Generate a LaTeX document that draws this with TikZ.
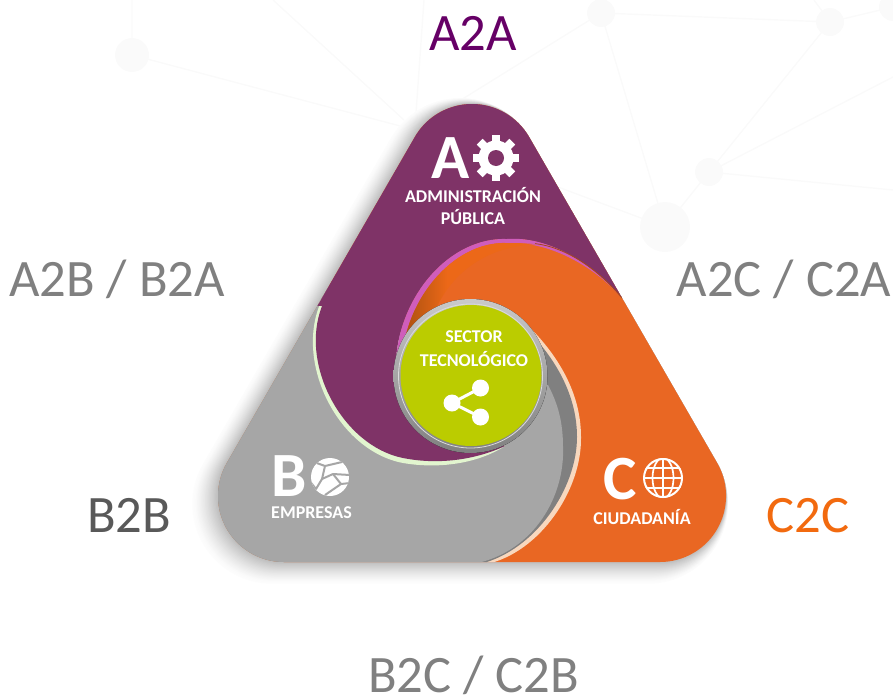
\documentclass[tikz,border=0pt]{standalone}
\usepackage{fontspec}
\setmainfont{Carlito}
\definecolor{cPurple}{HTML}{7F3367}
\definecolor{cOrange}{HTML}{E96723}
\definecolor{cGray}{HTML}{A6A6A6}
\definecolor{cDark}{HTML}{808080}
\definecolor{cPink}{HTML}{CF5DBB}
\definecolor{cMint}{HTML}{E2F5CF}
\definecolor{cPeach}{HTML}{F8D8BE}
\definecolor{cLime}{HTML}{BBCC00}
\definecolor{cNet}{HTML}{FAFAFA}
\definecolor{cLabA}{HTML}{660066}
\definecolor{cLabB}{HTML}{595959}
\definecolor{cLabC}{HTML}{F26A0F}
\definecolor{cBrown}{HTML}{A9500F}
\definecolor{cBright}{HTML}{EC6818}
\pgfdeclarehorizontalshading{cres}{100bp}{color(0bp)=(cBrown);color(25bp)=(cBrown);color(42bp)=(cBright);color(75bp)=(cBright);color(100bp)=(cBright)}
\def\tripath{(414.8,137) arc[start angle=150,end angle=30,radius=66pt] -- (717.2,463) arc[start angle=30,end angle=-90,radius=66pt] -- (284,562) arc[start angle=-90,end angle=-210,radius=66pt] -- cycle}
\tikzset{
  biglabel/.style={font=\fontsize{52.6}{52.6}\selectfont, anchor=base, inner sep=0pt},
  smalltext/.style={font=\bfseries\fontsize{18}{20}\selectfont, text=white, inner sep=0pt, anchor=center, align=center},
  initial/.style={font=\bfseries\fontsize{63}{63}\selectfont, text=white, inner sep=0pt, anchor=base},
  netline/.style={draw=cNet, line width=1.4pt},
  netnode/.style={fill=cNet}
}
\begin{document}
\begin{tikzpicture}[x=1pt,y=-1pt]
\useasboundingbox (0,0) rectangle (893,696);
% background network
\draw[netline] (132,0) -- (132,55) -- (404,127);
\draw[netline] (273,0) -- (404,120);
\draw[netline] (424,0) -- (416,113);
\draw[netline] (456,103) -- (601,13) -- (830,22) -- (709,172) -- (665,227) -- (601,13);
\draw[netline] (893,190) -- (709,172) -- (893,77);
\draw[netline] (814,0) -- (830,22) -- (893,7);
\draw[netline] (558,187) -- (665,227);
\fill[netnode] (132,55) circle[radius=17pt];
\fill[netnode] (601,13) circle[radius=14pt];
\fill[netnode] (830,22) circle[radius=14pt];
\fill[netnode] (709,172) circle[radius=14pt];
\fill[netnode] (665,227) circle[radius=25pt];
\fill[netnode] (893,7) circle[radius=14pt];
% soft shadow, graded layers closing in on the body
\foreach \i in {0,...,19}{
  \pgfmathsetmacro{\f}{1-\i/20}
  \pgfmathsetmacro{\dx}{-12*\f}
  \pgfmathsetmacro{\dy}{8*\f}
  \pgfmathsetmacro{\lw}{28*\f}
  \pgfmathsetmacro{\p}{26*pow(\i/20,1.4)+.6}
  \begin{scope}[shift={(\dx,\dy)}]
  \filldraw[draw=black!\p!white,fill=black!\p!white,line width=\lw pt,line join=round] \tripath;
  \end{scope}
}
% body
\begin{scope}
\clip \tripath;
\fill[cOrange] (150,90) rectangle (750,580);
% gray swirl
\fill[cPeach] (470,375) -- (520,318) .. controls (555,350) and (581,390) .. (581,437) .. controls (582,490) and (540,552) .. (487,564) -- (100,570) -- (100,150) -- cycle;
\fill[cDark] (470,375) -- (518,321) .. controls (552,352) and (577,392) .. (577,437) .. controls (577,488) and (536,550) .. (480,564) -- (100,570) -- (100,150) -- cycle;
\fill[cGray] (470,375) -- (548,385) .. controls (557,402) and (563,420) .. (563,447) .. controls (565,495) and (535,552) .. (473,564) -- (100,570) -- (100,150) -- cycle;
% mint rim
\fill[cMint] (470,375) -- (300,290) -- (320,304) .. controls (295,365) and (339,451) .. (403,463) .. controls (438,469) and (477,464) .. (505,446) -- cycle;
% purple
\fill[cPurple] (430,400) -- (505,446) .. controls (475,460) and (438,465) .. (403,458) .. controls (343,446) and (299,365) .. (322,306) -- (200,300) -- (200,90) -- (740,90) -- (640,305) -- (622,298) .. controls (592,262) and (547,236) .. (507,239) .. controls (450,237) and (400,295) .. (396,360) -- (396,380) -- cycle;
% pink rim and dark orange crescent
\fill[cPink] (622,298) .. controls (592,262) and (547,236) .. (507,239) .. controls (450,237) and (400,295) .. (396,360) -- (402,360) .. controls (405,300) and (453,241) .. (507,243) .. controls (547,241) and (592,264) .. (622,298) -- cycle;
\draw[cOrange!70!black,line width=.8pt] (535,243.6) .. controls (565,247) and (597,268) .. (622,298);
\shade[shading=cres] (402,360) .. controls (405,300) and (453,241) .. (507,243) .. controls (520,243) and (530,243.5) .. (535,244.3) .. controls (480,247) and (443,280) .. (430,325) -- cycle;
\end{scope}
% central circle
\fill[top color=cGray!60!white, bottom color=cDark] (470.5,376) circle[radius=77pt];
\draw[cGray!40!white,line width=.8pt] (470.5,376) circle[radius=72pt];
\node[circle,fill=cLime,minimum size=141pt,inner sep=0pt] (hub) at (471,375.5) {};
% share icon
\coordinate (s1) at (480.5,388);
\coordinate (s2) at (452,403);
\coordinate (s3) at (480.5,417);
\draw[white,line width=3pt] (s1) -- (s2) -- (s3);
\fill[white] (s1) circle[radius=8.5pt] (s2) circle[radius=8.5pt] (s3) circle[radius=8.5pt];
% gear
\begin{scope}[shift={(496,158)}]
\foreach \a in {0,45,...,315}{
  \fill[white,rotate=\a] (-4.2,-23) rectangle (4.2,0);
}
\fill[white] (0,0) circle[radius=17.5pt];
\fill[cPurple] (0,0) circle[radius=8pt];
\end{scope}
% ball icon
\begin{scope}[shift={(330,477)}]
\fill[white] (0,0) circle[radius=19pt];
\clip (0,0) circle[radius=19pt];
\draw[cGray,line width=2pt,line join=round] (-16,-15) -- (-5,-11) -- (12,-15);
\draw[cGray,line width=2pt,line join=round] (-5,-11) -- (-8,2) -- (3,-3) -- (20,-2);
\draw[cGray,line width=2pt,line join=round] (-8,2) -- (-14,12) -- (-22,2);
\draw[cGray,line width=2pt,line join=round] (3,-3) -- (11,7) -- (-5,18);
\draw[cGray,line width=2pt,line join=round] (11,7) -- (20,6);
\end{scope}
% globe icon
\begin{scope}[shift={(663,478)}]
\begin{scope}
\clip (0,0) circle[radius=20pt];
\draw[white,line width=1.7pt] (0,-20) -- (0,20);
\draw[white,line width=1.7pt] (0,0) ellipse[x radius=10.5pt,y radius=20pt];
\draw[white,line width=1.7pt] (-20,0) -- (20,0);
\draw[white,line width=1.7pt] (-20,-10) -- (20,-10) (-20,10) -- (20,10);
\end{scope}
\draw[white,line width=2pt] (0,0) circle[radius=19pt];
\end{scope}
% initials and captions
\node[initial] (initA) at (451,178) {A};
\node[initial] (initB) at (289,496) {B};
\node[initial] (initC) at (620,499) {C};
\node[smalltext] (capA1) at (473,195) {ADMINISTRACIÓN};
\node[smalltext] (capA2) at (473,217) {PÚBLICA};
\node[smalltext] (capB) at (311.5,513) {EMPRESAS};
\node[smalltext] (capC) at (642,517) {CIUDADANÍA};
\node[smalltext] (capS1) at (474,337) {SECTOR};
\node[smalltext] (capS2) at (474,358.5) {TECNOLÓGICO};
% outer labels
\node[biglabel,text=cLabA] (aa) at (473,50) {A2A};
\node[biglabel,text=cDark] (ab) at (117,296) {A2B / B2A};
\node[biglabel,text=cDark] (ac) at (784,296) {A2C / C2A};
\node[biglabel,text=cLabB] (bb) at (129,532) {B2B};
\node[biglabel,text=cLabC] (cc) at (808,532) {C2C};
\node[biglabel,text=cDark] (bc) at (473.5,692) {B2C / C2B};
\end{tikzpicture}
\end{document}
